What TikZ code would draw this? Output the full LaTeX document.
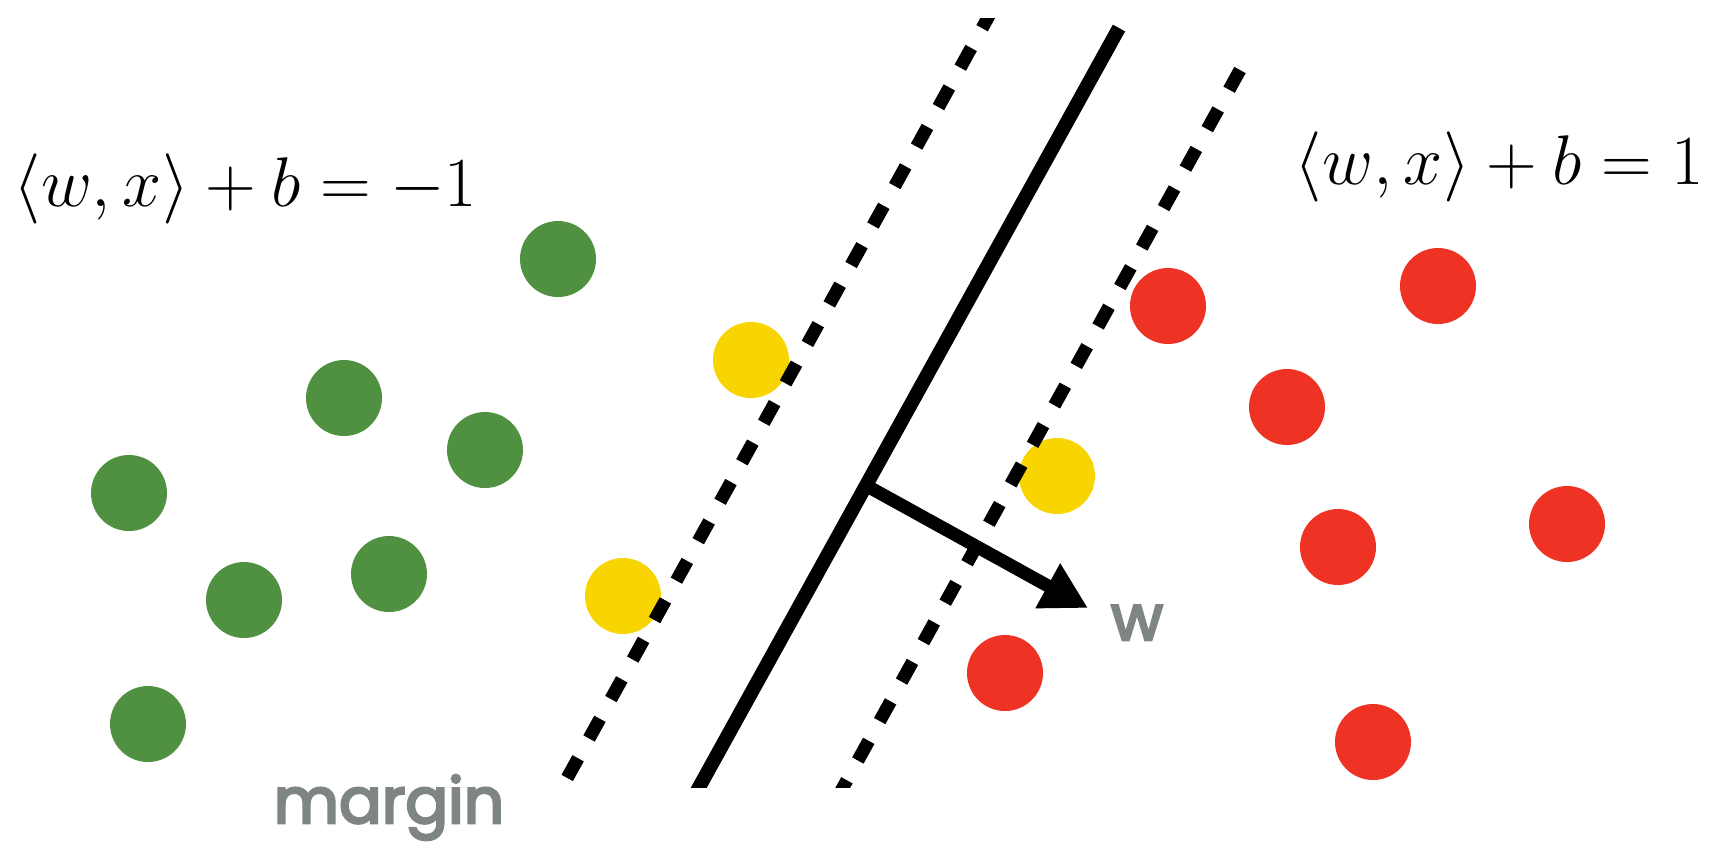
\RequirePackage{fix-cm}
\documentclass[tikz,border=0pt]{standalone}
\usepackage{amsmath}
\usepackage{fontspec}
\usetikzlibrary{arrows.meta}
\newfontfamily\labelfont{Poppins}[FakeBold=4]
\definecolor{classgreen}{HTML}{4F9140}
\definecolor{supportyellow}{HTML}{F8D400}
\definecolor{classred}{HTML}{EE3224}
\definecolor{labelgray}{HTML}{7F8484}
\tikzset{
  data dot/.style={
    circle,
    inner sep=0pt,
    minimum size=7.6mm
  },
  green dot/.style={data dot, fill=classgreen},
  yellow dot/.style={data dot, fill=supportyellow},
  red dot/.style={data dot, fill=classred},
  hyperplane/.style={
    line width=1.4mm,
    color=black
  },
  margin line/.style={
    line width=1.3mm,
    color=black,
    dash pattern=on 2.25mm off 2.26mm
  },
  normal arrow/.style={
    -{Triangle[length=4.6mm, width=4.8mm]},
    line width=1.3mm
  },
  eq label/.style={
    inner sep=0pt,
    font=\fontsize{20}{24}\selectfont
  },
  gray label/.style={
    inner sep=0pt,
    color=labelgray,
    font=\labelfont\fontsize{18}{22}\selectfont
  }
}

\begin{document}
\begin{tikzpicture}[x=0.1mm, y=-0.1mm]
    \useasboundingbox (0,0) rectangle (1709,841);

    % Datenpunkte der beiden Klassen
    \foreach \p [count=\i] in {(558,259), (344,398), (485,450), (129,493), (389,574), (244,600), (148,724)}
      \node[green dot] (g\i) at \p {};
    \foreach \p [count=\i] in {(1168,306), (1438,286), (1287,407), (1338,547), (1567,524), (1005,673), (1373,742)}
      \node[red dot] (r\i) at \p {};
    % Stuetzvektoren
    \foreach \p [count=\i] in {(751,360), (1057,476), (623,596)}
      \node[yellow dot] (s\i) at \p {};

    % Trennebene und Rand (oben und unten abgeschnitten)
    \coordinate (planeTop) at (1119,28);
    \coordinate (planeBot) at (692,800);
    \coordinate (lowTop) at (993,8.5);
    \coordinate (lowBot) at (555,800);
    \coordinate (upTop) at (1240,70);
    \coordinate (upBot) at (836,800);
    \begin{scope}
      \clip (0,18) rectangle (1709,787);
      \draw[margin line] (lowTop) -- (lowBot);
      \draw[hyperplane] (planeTop) -- (planeBot);
      \draw[margin line] (upTop) -- (upBot);
    \end{scope}

    % Normalenvektor w
    \coordinate (foot) at (867,486);
    \coordinate (wtip) at (1088,608);
    \draw[normal arrow] (foot) -- (wtip);
    \node[gray label, anchor=base] (wlabel) at (1137,640) {w};

    % Gleichungen der Randebenen
    \node[eq label, anchor=west] (eqminus) at (13,188.5) {$\langle w,x\rangle+b=-1$};
    \node[eq label, anchor=west] (eqplus) at (1294,166.5) {$\langle w,x\rangle+b=1$};

    \node[gray label, anchor=base] (marginlabel) at (389,823) {margin};

\end{tikzpicture}
\end{document}
